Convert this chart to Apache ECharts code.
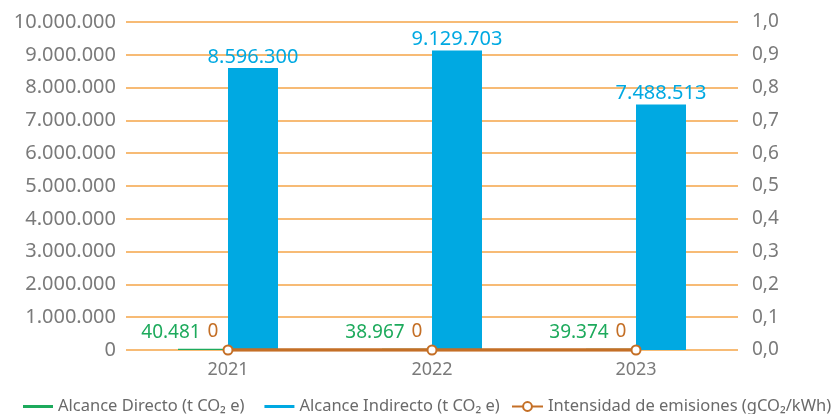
<!DOCTYPE html>
<html>
<head>
<meta charset="utf-8">
<script src="https://cdn.jsdelivr.net/npm/echarts@6/dist/echarts.min.js"></script>
<style>
  html, body { margin: 0; padding: 0; background: #fff; }
  #chart { width: 832px; height: 414px; }
</style>
</head>
<body>
<div id="chart"></div>
<script>
// datos
const years = ['2021', '2022', '2023'];
const alcanceDirecto = [40481, 38967, 39374];
const alcanceIndirecto = [8596300, 9129703, 7488513];
const intensidad = [0, 0, 0];

const NAME_DIR = 'Alcance Directo (t CO\u2082 e)';
const NAME_IND = 'Alcance Indirecto (t CO\u2082 e)';
const NAME_INT = 'Intensidad de emisiones (gCO\u2082/kWh)';

const FONT = '"Noto Sans", sans-serif';
const GREEN = '#1DAA5C';
const BLUE = '#00A9E2';
const BROWN = '#C46F26';
const GRID = '#F5A547';
const GREY = '#7a7a7a';

// separador de miles con punto
const fmtMiles = (v) => String(Math.round(v)).replace(/\B(?=(\d{3})+(?!\d))/g, '.');
const fmtDec = (v) => v.toFixed(1).replace('.', ',');

const chart = echarts.init(document.getElementById('chart'), null, { renderer: 'canvas' });

chart.setOption({
  backgroundColor: '#fff',
  animation: false,
  textStyle: { fontFamily: FONT },
  grid: { left: 126, right: 94, top: 22, bottom: 64 },
  legend: [
    {
      data: [NAME_DIR, NAME_IND],
      left: 18,
      top: 393,
      itemWidth: 30,
      itemHeight: 3,
      itemGap: 20,
      icon: 'rect',
      textStyle: { color: '#6a6a6a', fontSize: 16.5, fontFamily: FONT },
    },
    {
      data: [NAME_INT],
      left: 506,
      top: 393,
      itemWidth: 31,
      itemHeight: 11,
      itemGap: 6,
      textStyle: { color: '#6a6a6a', fontSize: 16.5, fontFamily: FONT },
    },
  ],
  xAxis: {
    type: 'category',
    data: years,
    axisLine: { show: false },
    axisTick: { show: false },
    axisLabel: { color: GREY, fontSize: 18, margin: 11, fontFamily: FONT },
  },
  yAxis: [
    {
      type: 'value',
      min: 0,
      max: 10000000,
      interval: 1000000,
      axisLine: { show: false },
      axisTick: { show: false },
      splitLine: { lineStyle: { color: GRID, width: 1.5 } },
      axisLabel: { color: GREY, fontSize: 20, margin: 10, fontFamily: FONT, formatter: fmtMiles },
    },
    {
      type: 'value',
      min: 0,
      max: 1,
      interval: 0.1,
      axisLine: { show: false },
      axisTick: { show: false },
      splitLine: { show: false },
      axisLabel: { color: GREY, fontSize: 19, margin: 14, fontFamily: FONT, formatter: fmtDec },
    },
  ],
  series: [
    {
      name: NAME_DIR,
      type: 'bar',
      data: alcanceDirecto,
      barWidth: 50,
      barGap: '0%',
      itemStyle: { color: GREEN },
      label: {
        show: true,
        position: 'top',
        offset: [-32, -2],
        color: GREEN,
        fontSize: 19,
        fontFamily: FONT,
        formatter: (p) => fmtMiles(p.value),
      },
    },
    {
      name: NAME_IND,
      type: 'bar',
      data: alcanceIndirecto,
      barWidth: 50,
      itemStyle: { color: BLUE },
      label: {
        show: true,
        position: 'top',
        offset: [0, 4],
        color: BLUE,
        fontSize: 20,
        fontFamily: FONT,
        formatter: (p) => fmtMiles(p.value),
      },
    },
    {
      name: NAME_INT,
      type: 'line',
      yAxisIndex: 1,
      data: intensidad,
      z: 5,
      symbol: 'emptyCircle',
      symbolSize: 9,
      itemStyle: { color: BROWN, borderWidth: 2 },
      lineStyle: { color: BROWN, width: 3.5 },
      label: {
        show: true,
        position: 'top',
        offset: [-15, 2],
        color: BROWN,
        fontSize: 19,
        fontFamily: FONT,
        formatter: (p) => String(p.value),
      },
    },
  ],
});
</script>
</body>
</html>
